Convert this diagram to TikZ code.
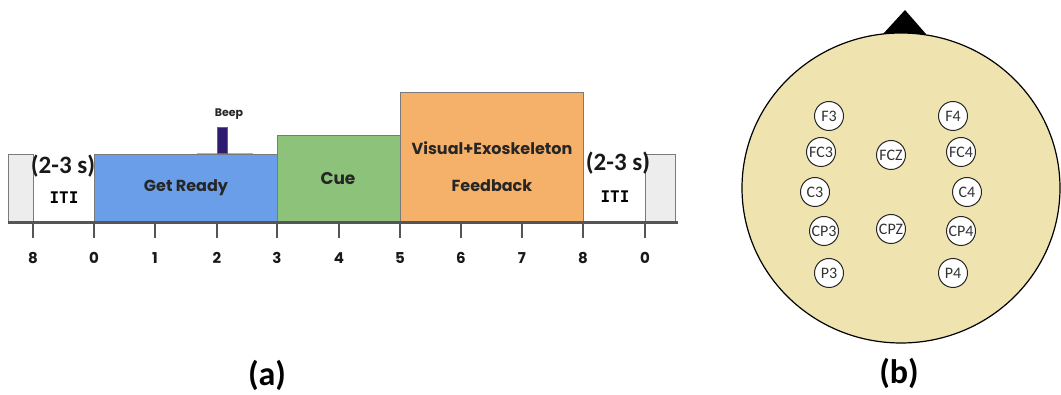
\documentclass[tikz,border=0pt]{standalone}
\usepackage{fontspec}
\usetikzlibrary{shapes.geometric}
\newfontfamily\popfont{Poppins}
\newfontfamily\carfont{Carlito}
\newfontfamily\monofont{DejaVu Sans Mono}
\definecolor{gr}{HTML}{6A9EE8}
\definecolor{cu}{HTML}{8DC27A}
\definecolor{fb}{HTML}{F5B06A}
\definecolor{lg}{HTML}{EDEDED}
\definecolor{bd}{HTML}{7A7A7A}
\definecolor{ax}{HTML}{555555}
\definecolor{bp}{HTML}{2E1A6E}
\definecolor{head}{HTML}{EFE3B0}
\begin{document}
\begin{tikzpicture}[x=1pt,y=-1pt,
  phase/.style={draw=bd,line width=0.9pt,inner sep=0pt,outer sep=0pt,anchor=south west},
  lbl/.style={font=\popfont\bfseries\fontsize{16}{18}\selectfont,text=black!85},
  ticksty/.style={draw=ax,line width=1.3pt},
  ticklbl/.style={font=\popfont\bfseries\fontsize{15}{17}\selectfont,text=black!90},
  dur/.style={font=\carfont\bfseries\fontsize{25}{27}\selectfont,text=black!90},
  iti/.style={font=\monofont\bfseries\fontsize{16}{18}\selectfont},
  elec/.style={circle,draw=black!85,line width=1pt,fill=white,minimum size=29pt,inner sep=0pt,font=\carfont\fontsize{16}{17}\selectfont,text=black!80},
  captext/.style={font=\carfont\bfseries\fontsize{34}{36}\selectfont}]
\useasboundingbox (0,0) rectangle (1061,395);
% timeline boxes
\node[phase,fill=lg,minimum width=25pt,minimum height=68pt] (itil) at (8,222) {};
\node[phase,fill=gr,minimum width=183pt,minimum height=68pt] (ready) at (94,222) {};
\node[phase,fill=cu,minimum width=123pt,minimum height=87pt] (cue) at (277,222) {};
\node[phase,fill=fb,minimum width=183pt,minimum height=130pt] (feed) at (400,222) {};
\node[phase,fill=lg,minimum width=30pt,minimum height=68pt] (itir) at (645,222) {};
% beep
\draw[draw=black!30,line width=0.8pt] (197,153) -- (253,153);
\node[draw=black!60,line width=0.6pt,fill=bp,inner sep=0pt,outer sep=0pt,minimum width=10pt,minimum height=26pt,anchor=south west] (beepbar) at (217,153) {};
\node[font=\popfont\bfseries\fontsize{11}{12}\selectfont,text=black!85] (beep) at (229,114) {Beep};
% texts
\node[lbl] (tready) at (186,188) {Get Ready};
\node[lbl,font=\popfont\bfseries\fontsize{17}{19}\selectfont] (tcue) at (338,179) {Cue};
\node[lbl] (tvis) at (492,148) {Visual+Exoskeleton};
\node[lbl] (tfb) at (492,186) {Feedback};
\node[dur] (d1) at (63,166) {(2-3 s)};
\node[iti] (i1) at (64,198) {ITI};
\node[dur] (d2) at (618,163) {(2-3 s)};
\node[iti] (i2) at (615,197) {ITI};
% axis
\coordinate (axl) at (8,223);
\coordinate (axr) at (678,223);
\draw[draw=ax,line width=3pt] (axl) -- (axr);
\foreach \x/\t [count=\i] in {33/8,94/0,155/1,217/2,277/3,339/4,400/5,461/6,522/7,583/8,645/0}{
  \coordinate (ta\i) at (\x,223);
  \coordinate (tb\i) at (\x,238);
  \draw[ticksty] (ta\i) -- (tb\i);
  \node[ticklbl] (tl\i) at (\x,258) {\t};
}
\node[captext] (capa) at (267,375) {(a)};
% head
\fill[black] (883,34) -- (905,10) -- (926,34) -- cycle;
\node[ellipse,draw=black,line width=1.2pt,fill=head,minimum width=318pt,minimum height=310pt,inner sep=0pt] (headc) at (901,188) {};
\node[elec] (F3) at (829,116) {F3};
\node[elec] (F4) at (953,116) {F4};
\node[elec] (FC3) at (821,152) {FC3};
\node[elec] (FCZ) at (891,155) {FCZ};
\node[elec] (FC4) at (961,152) {FC4};
\node[elec] (C3) at (815,192) {C3};
\node[elec] (C4) at (967,192) {C4};
\node[elec] (CP3) at (824,231) {CP3};
\node[elec] (CPZ) at (891,229) {CPZ};
\node[elec] (CP4) at (961,231) {CP4};
\node[elec] (P3) at (829,273) {P3};
\node[elec] (P4) at (953,273) {P4};
\node[captext] (capb) at (899,373) {(b)};
\end{tikzpicture}
\end{document}
